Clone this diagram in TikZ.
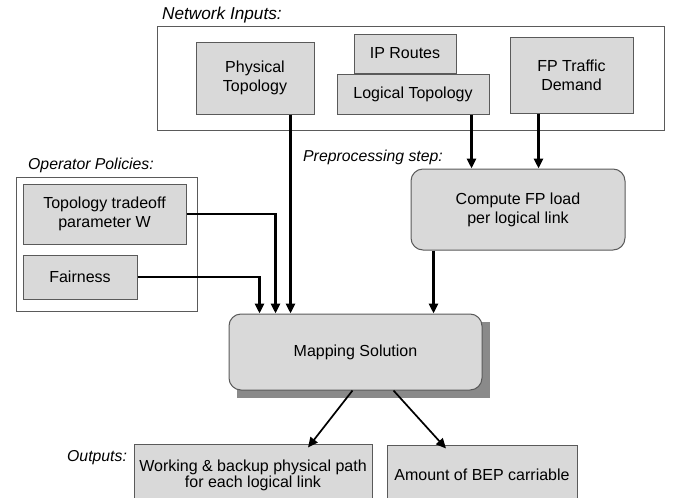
\documentclass[tikz,border=0pt]{standalone}
\usepackage{fontspec}
\setmainfont{Liberation Sans}
\usetikzlibrary{positioning,arrows.meta}

\definecolor{boxgray}{HTML}{D9D9D9}
\definecolor{edgegray}{HTML}{5A5A5A}
\definecolor{shadowgray}{HTML}{8A8A8A}

\begin{document}
\begin{tikzpicture}[x=1pt, y=-1pt,
    font=\fontsize{16}{19}\selectfont,
    groupbox/.style={rectangle, draw=edgegray, fill=white, line width=0.9pt, inner sep=0pt},
    squarenode/.style={rectangle, draw=edgegray, fill=boxgray, line width=1pt, align=center, inner sep=0pt},
    roundbox/.style={squarenode, rounded corners=12pt},
    grouplabel/.style={anchor=west, font=\fontsize{15.8}{18.5}\selectfont\itshape, inner sep=0pt},
    feed/.style={-{Triangle[length=10pt,width=9pt]}, line width=2.6pt, draw=black},
    result/.style={-{Triangle[length=10pt,width=9pt]}, line width=1.7pt, draw=black}
    ]
        \useasboundingbox (0,0) rectangle (678,498);

        %Groups
        \node[groupbox, minimum width=507pt, minimum height=104pt]
            (net)       at (410.5,78)   {};
        \node[groupbox, minimum width=181pt, minimum height=134pt]
            (ops)       at (106.5,244)  {};
        \node[grouplabel, font=\fontsize{17.2}{19}\selectfont\itshape]
                            (netlbl)    at (162,15)     {Network Inputs:};
        \node[grouplabel]   (opslbl)    at (28,165)     {Operator Policies:};
        \node[grouplabel]   (prelbl)    at (303,157)    {Preprocessing step:};
        \node[grouplabel]   (outlbl)    at (67,458)     {Outputs:};

        %Nodes
        \node[squarenode, minimum width=118pt, minimum height=72pt]
            (phys)      at (255,78)     {Physical\\Topology};
        \node[squarenode, minimum width=102pt, minimum height=39pt]
            (iproutes)  at (405,53.5)   {IP Routes};
        \node[squarenode, minimum width=152pt, minimum height=40pt]
            (logical)   at (413,94)     {Logical Topology};
        \node[squarenode, minimum width=123pt, minimum height=76pt]
            (fpdemand)  at (571.5,75)   {FP Traffic\\Demand};
        \node[squarenode, minimum width=163pt, minimum height=60pt]
            (tradeoff)  at (104.5,214)  {Topology tradeoff\\parameter W};
        \node[squarenode, minimum width=114pt, minimum height=44pt]
            (fair)      at (80,277)     {Fairness};
        \node[roundbox, minimum width=214pt, minimum height=81pt]
            (compute)   at (518,209.5)  {Compute FP load\\per logical link};
        \fill[shadowgray] (236.5,321.5) rectangle (490,397.5);
        \node[roundbox, minimum width=253pt, minimum height=76pt]
            (mapping)   at (355.5,352)  {Mapping Solution};
        \node[squarenode, minimum width=238pt, minimum height=62pt,
              font=\fontsize{16}{16}\selectfont]
            (working)   at (253,475)    {Working \& backup physical path\\for each logical link};
        \node[squarenode, minimum width=190pt, minimum height=60pt]
            (amount)    at (482,475)    {Amount of BEP carriable};

        %Lines
        \coordinate (physout) at ([xshift=-24pt]phys.south east);
        \coordinate (logout)  at ([xshift=-18pt]logical.south east);
        \coordinate (fpout)   at ([xshift=29pt]fpdemand.south west);
        \coordinate (compout) at ([xshift=23pt]compute.south west);
        \draw[feed] (physout) -- (physout |- mapping.north);
        \draw[feed] (logout) -- (logout |- compute.north);
        \draw[feed] (fpout) -- (fpout |- compute.north);
        \draw[feed] (compout) -- (compout |- mapping.north);
        \draw[feed] (tradeoff.east) -| ([xshift=47pt]mapping.north west);
        \draw[feed] (fair.east) -| ([xshift=31pt]mapping.north west);
        \draw[result] ([xshift=-3pt]mapping.south) -- ([xshift=55pt,yshift=-4pt]working.north);
        \draw[result] ([xshift=38pt]mapping.south) -- ([xshift=-36pt,yshift=-4pt]amount.north);
\end{tikzpicture}
\end{document}
